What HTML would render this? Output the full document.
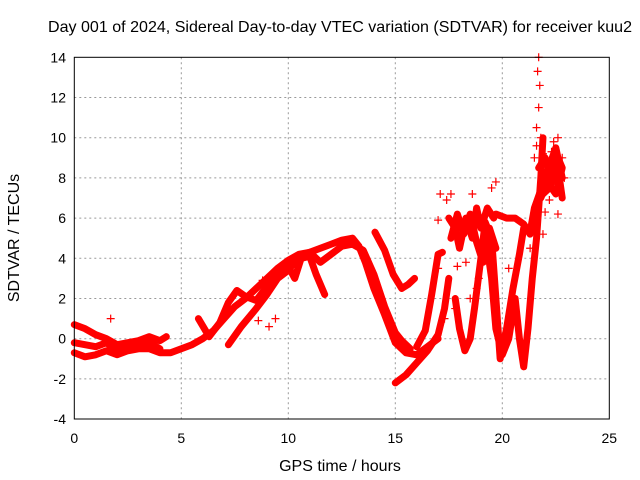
<!DOCTYPE html>
<html><head><meta charset="utf-8"><style>
html,body{margin:0;padding:0;background:#fff;}
svg{display:block;font-family:"Liberation Sans",sans-serif;}
</style></head><body>
<svg id="chart" width="640" height="480">
<text x="340" y="32" text-anchor="middle" font-size="16" textLength="584" lengthAdjust="spacingAndGlyphs">Day 001 of 2024, Sidereal Day-to-day VTEC variation (SDTVAR) for receiver kuu2</text>
<text x="340" y="471" text-anchor="middle" font-size="16">GPS time / hours</text>
<text transform="translate(19,238) rotate(-90)" text-anchor="middle" font-size="16">SDTVAR / TECUs</text>
<g id="grid"></g>
<g id="marks"></g>
<rect x="74.3" y="57.3" width="535" height="361.7" fill="none" stroke="#000" stroke-width="1"/>
</svg>
<script>
const xTicks=[0,5,10,15,20,25];
const yTicks=[-4,-2,0,2,4,6,8,10,12,14];
const s1=[[0,-0.7],[0.5,-0.9],[1,-0.8],[1.5,-0.6],[2,-0.8],[2.5,-0.6],[3,-0.5],[3.5,-0.5],[4,-0.7],[4.5,-0.7],[5,-0.5],[5.5,-0.3],[6,0],[6.5,0.4],[7,1.0],[7.5,1.6],[8,2.0],[8.5,2.5],[9,3.0],[9.5,3.5],[10,3.9],[10.5,4.2],[11,4.3],[11.5,4.5],[12,4.7],[12.5,4.9],[13,5.0],[13.3,4.6],[13.6,3.8],[14,2.5],[14.5,1.2],[15,-0.2],[15.5,-0.7],[16,-0.8],[16.5,-0.4],[17,0]];
const s2=[[0,0.7],[0.5,0.5],[1,0.2],[1.5,0],[2,-0.3],[2.5,-0.2],[3,-0.1],[3.5,0.1],[4,-0.1],[4.3,0.1]];
const s3=[[0,-0.2],[0.5,-0.3],[1,-0.4],[1.5,-0.2],[2,-0.6],[2.5,-0.4],[3,-0.4],[3.5,-0.2],[4,-0.5]];
const s4=[[5.8,1.0],[6.3,0.1],[6.8,0.8],[7.2,1.8],[7.6,2.4],[8,2.1],[8.5,1.9],[9,2.6],[9.5,3.3],[10,3.6],[10.3,3.0],[10.6,4.0],[11,4.1],[11.3,3.2],[11.7,2.2]];
const s5=[[7.2,-0.3],[7.8,0.6],[8.5,1.5],[9,2.2],[9.5,3.0],[10,3.4],[10.5,4.1],[11,4.3],[11.5,3.8],[12,4.2],[12.5,4.6],[13,4.7],[13.5,4.4],[14,3.2],[14.5,1.6],[15,0.3],[15.3,-0.1],[15.7,-0.5]];
const s6=[[14.05,5.3],[14.5,4.4],[14.9,3.2],[15.3,2.5],[15.6,2.7],[15.9,3.0]];
const s7=[[15,-2.2],[15.5,-1.8],[16,-1.2],[16.5,-0.6],[17,0.2],[17.3,1.5],[17.5,3.0]];
const s8=[[16,-0.4],[16.4,0.4],[16.7,2.2],[17,4.2],[17.2,4.3]];
const s9=[[17.8,2.0],[18,0.5],[18.25,-0.6],[18.5,0],[18.7,1.5],[19,4.0],[19.2,5.8],[19.5,5.0],[19.7,2.0],[19.9,-1.0],[20.2,0.5],[20.5,2.5],[20.8,4.2],[21,5.5],[21.3,5.3],[21.5,6.5],[22,8.0],[22.5,9.5],[22.8,8.0]];
const s10=[[19.3,4.5],[19.5,3.0],[19.7,0.5],[20,-0.8],[20.3,0],[20.6,2.0],[20.8,0],[21,-1.4],[21.2,0.5],[21.4,3.0],[21.6,5.0],[21.8,8.0],[21.9,10.0]];
const s11=[[19.7,6.2],[20.2,6.0],[20.6,6.0],[21,5.7],[21.3,5.2],[21.7,7.0],[22.2,7.5],[22.6,8.5],[22.8,7.0]];
const s12=[[17.5,6.0],[17.8,5.5],[18,4.5],[18.3,6.0],[18.6,5.0],[18.8,6.5],[19,5.5],[19.3,6.5],[19.6,6.0]];
const s13=[[17.6,5.0],[17.9,6.2],[18.2,5.2],[18.5,6.2],[18.8,4.8],[19.1,3.8],[19.4,5.5],[19.7,4.5]];
const s14=[[21.7,8.5],[22.0,9.0],[22.3,8.0],[22.6,9.0],[22.8,8.5],[22.5,7.2],[22.1,7.8],[21.8,7.0]];
const scat=[[1.7,1.0],[8.8,2.9],[8.6,0.9],[9.1,0.6],[9.4,1.0],[17.1,7.2],[17.4,6.9],[17.6,7.2],[18.6,7.2],[19.5,7.5],[19.7,7.8],[19.2,5.0],[21.7,14.0],[21.65,13.3],[21.75,12.6],[21.7,11.5],[21.6,10.5],[21.8,10.0],[21.5,9.0],[21.9,9.2],[22.4,9.8],[22.6,10.0],[22.8,9.0],[22.9,8.0],[22.2,6.9],[22.0,6.3],[21.9,5.2],[22.6,6.2],[17.3,1.0],[17.0,3.5],[18.5,2.0],[18.9,3.0],[20.3,3.5],[21.3,4.5],[17.0,5.9],[17.9,3.6],[18.3,3.8],[18.8,2.5],[17.8,1.5],[21.6,9.6],[22.3,9.3]];
const series=[s1,s2,s3,s4,s5,s6,s7,s8,s9,s10,s11,s12,s13,s14];
const X=v=>74.3+v*21.4;
const Y=v=>338.7-v*20.1;
const NS="http://www.w3.org/2000/svg";
const svg=document.getElementById('chart');
const grid=document.getElementById('grid');
const marks=document.getElementById('marks');
function mk(t,a){const e=document.createElementNS(NS,t);for(const k in a)e.setAttribute(k,a[k]);return e;}
xTicks.forEach(v=>{
  if(v>0&&v<25){const g=mk('line',{x1:X(v),x2:X(v),y1:57.3,y2:419,stroke:'#999','stroke-dasharray':'2,3'});
  
  grid.appendChild(g);}
  const t=mk('text',{x:X(v),y:443,'text-anchor':'middle','font-size':'14'});t.textContent=v;
  
  svg.appendChild(t);
});
yTicks.forEach(v=>{
  if(v>-4&&v<14){const g=mk('line',{x1:74.3,x2:609.3,y1:Y(v),y2:Y(v),stroke:'#999','stroke-dasharray':'2,3'});
  
  grid.appendChild(g);}
  const t=mk('text',{x:66,y:Y(v)+5,'text-anchor':'end','font-size':'14'});t.textContent=v;
  
  svg.appendChild(t);
});
series.forEach((s,i)=>{
  const p=mk('polyline',{points:s.map(d=>X(d[0])+','+Y(d[1])).join(' '),fill:'none',stroke:'#f00','stroke-width':'7','stroke-linejoin':'round','stroke-linecap':'round'});
  
  
  marks.appendChild(p);
});
scat.forEach(d=>{
  const x=X(d[0]),y=Y(d[1]);
  const p=mk('path',{d:`M${x-4},${y}H${x+4}M${x},${y-4}V${y+4}`,stroke:'#f00','stroke-width':'1.2'});
  
  
  marks.appendChild(p);
});
</script>
</body></html>
